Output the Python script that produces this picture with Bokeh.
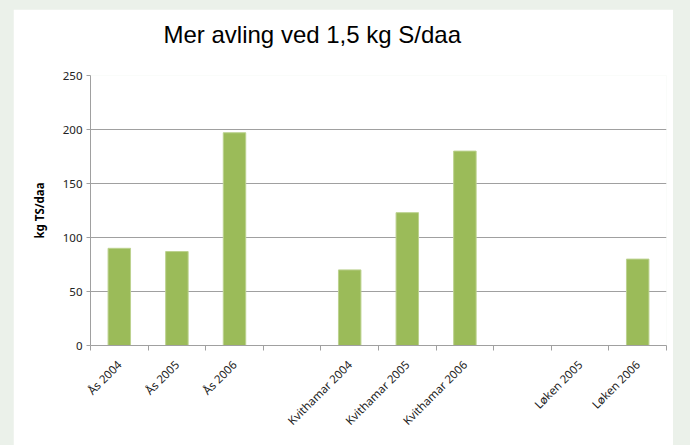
from bokeh.plotting import figure
from bokeh.models import (Range1d, FixedTicker, ColumnDataSource, Title,
                          GlobalInlineStyleSheet)
from bokeh.embed import file_html
from bokeh.resources import INLINE
import math

# ---- data ----
categories = ["Ås 2004", "Ås 2005", "Ås 2006", "",
              "Kvithamar 2004", "Kvithamar 2005", "Kvithamar 2006", "",
              "Løken 2005", "Løken 2006"]
values = [90, 87, 197, None, 70, 123, 180, None, None, 80]
y_ticks = [0, 50, 100, 150, 200, 250]
title_text = "Mer avling ved 1,5 kg S/daa"
y_label = "kg TS/daa"

BG = "#EBF1EA"
GRID = "#A0A0A0"
BAR = "#9BBB59"
BAR_EDGE = "#BCD28F"
FONT = "Noto Sans"

n = len(categories)
centers = [i + 0.5 for i in range(n)]
xs = [c for c, v in zip(centers, values) if v is not None]
tops = [v for v in values if v is not None]
src = ColumnDataSource(dict(x=xs, top=tops))

p = figure(output_backend="svg", toolbar_location=None,
           frame_width=576, frame_height=270,
           x_range=Range1d(0, n), y_range=Range1d(0, 250),
           min_border_left=77, min_border_right=7,
           min_border_top=0, min_border_bottom=100,
           background_fill_color="white", border_fill_color="white",
           outline_line_color=None, title=None)

p.stylesheets = [GlobalInlineStyleSheet(
    css="body{background:%s; margin:9px 0 0 13px;}" % BG)]

# spacer panel between the title and the plot area
p.add_layout(Title(text=" ", text_font_size="1px", standoff=16), "above")
p.add_layout(Title(text=title_text, text_font="Liberation Sans",
                   text_font_size="24px", text_font_style="normal",
                   text_color="black", align="left", offset=73,
                   standoff=18), "above")

p.vbar(x="x", top="top", width=0.39, bottom=0, source=src,
       fill_color=BAR, line_color=BAR_EDGE, line_width=1)

# x axis: labels at centers, tick marks at category boundaries
xa = p.xaxis[0]
xa.ticker = FixedTicker(ticks=centers, minor_ticks=list(range(n + 1)))
xa.major_label_overrides = {c: lab for c, lab in zip(centers, categories)}
xa.major_tick_out = 0
xa.major_tick_in = 0
xa.minor_tick_out = 5
xa.minor_tick_in = 0
xa.minor_tick_line_color = GRID
xa.axis_line_color = GRID
xa.major_label_orientation = math.pi / 4
xa.major_label_text_font = FONT
xa.major_label_text_font_size = "11.5px"
xa.major_label_text_color = "#222222"
xa.major_label_standoff = 12

ya = p.yaxis[0]
ya.ticker = FixedTicker(ticks=y_ticks)
ya.major_tick_out = 4
ya.major_tick_in = 0
ya.minor_tick_line_color = None
ya.major_tick_line_color = GRID
ya.axis_line_color = GRID
ya.major_label_text_font = FONT
ya.major_label_text_font_size = "11.5px"
ya.major_label_text_color = "#222222"
ya.major_label_standoff = 4
ya.axis_label = y_label
ya.axis_label_text_font = FONT
ya.axis_label_text_font_size = "11.5px"
ya.axis_label_text_font_style = "bold"
ya.axis_label_text_color = "black"
ya.axis_label_standoff = 13

p.xgrid.grid_line_color = None
p.ygrid.ticker = FixedTicker(ticks=y_ticks)
p.ygrid.grid_line_color = GRID
p.ygrid.grid_line_width = 1

open("out.html", "w").write(file_html(p, INLINE))
